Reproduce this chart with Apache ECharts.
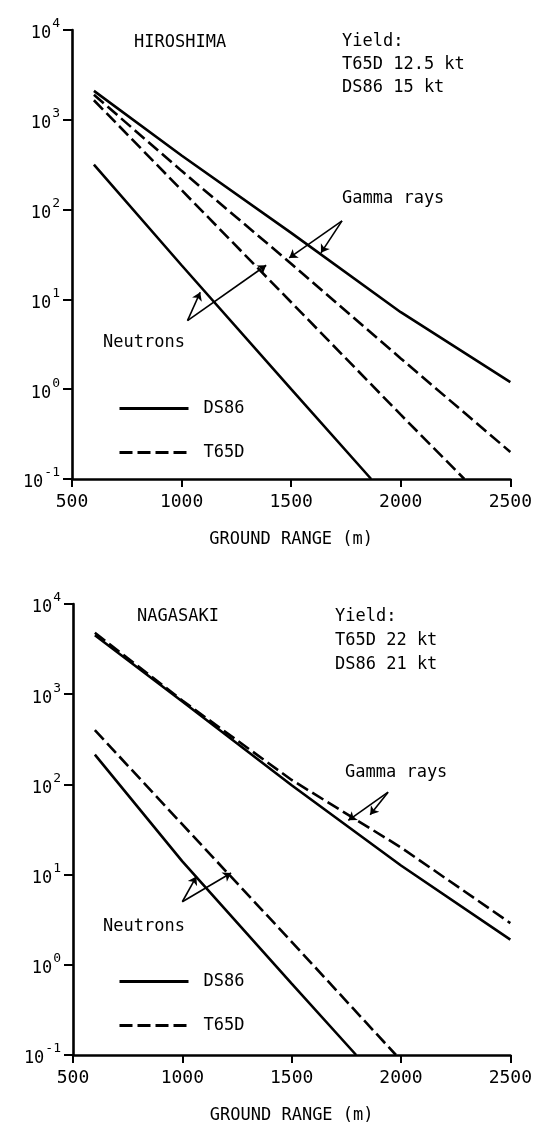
<!DOCTYPE html>
<html>
<head>
<meta charset="utf-8">
<script src="https://cdn.jsdelivr.net/npm/echarts@6/dist/echarts.min.js"></script>
<style>
html, body { margin: 0; padding: 0; background: #fff; }
#main { width: 535px; height: 1128px; }
</style>
</head>
<body>
<div id="main"></div>
<script>
// ground range in metres, values in the same units as the plot (log scale)
// Hiroshima
var hiroGammaRange = [600, 1000, 1500, 2000, 2500];
var hiroGammaDS86 = [2100, 400, 55, 7.2, 1.2];
var hiroGammaT65D = [1900, 270, 25, 2.2, 0.2];
var hiroNeutT65DRange = [600, 1000, 1500, 2000, 2290];
var hiroNeutT65D = [1650, 165, 9.3, 0.52, 0.1];
var hiroNeutDS86Range = [600, 1000, 1500, 1865];
var hiroNeutDS86 = [316, 24, 1.0, 0.1];
// Nagasaki
var nagaGammaRange = [600, 1000, 1500, 2000, 2500];
var nagaGammaDS86 = [4500, 830, 98, 12.6, 1.9];
var nagaGammaT65D = [4800, 850, 112, 20, 2.9];
var nagaNeutT65DRange = [600, 1000, 1500, 1977];
var nagaNeutT65D = [400, 36, 1.8, 0.1];
var nagaNeutDS86Range = [600, 1000, 1500, 1795];
var nagaNeutDS86 = [214, 14, 0.62, 0.1];

// annotation arrows, [from, to] in data units
var hiroArrows = [
    [[1732, 75], [1491, 29]],
    [[1732, 75], [1636, 33]],
    [[1027, 5.8], [1085, 12]],
    [[1027, 5.8], [1386, 24]]
];
var nagaArrows = [
    [[1941, 82], [1759, 40]],
    [[1941, 82], [1859, 46]],
    [[1000, 5.0], [1064, 9.5]],
    [[1000, 5.0], [1223, 10.4]]
];

var FONT = 'DejaVu Sans Mono';
var chart = echarts.init(document.getElementById('main'));

function pairs(xs, ys) {
    var out = [];
    for (var i = 0; i < xs.length; i++) out.push([xs[i], ys[i]]);
    return out;
}

function curve(name, gi, xs, ys) {
    return {
        name: name,
        type: 'line',
        xAxisIndex: gi,
        yAxisIndex: gi,
        symbol: 'none',
        smooth: false,
        lineStyle: {
            color: '#000',
            width: 2.6,
            type: name == 'T65D' ? [13, 5] : 'solid'
        },
        itemStyle: { color: '#000' },
        data: pairs(xs, ys)
    };
}

function arrows(gi, list) {
    return {
        type: 'lines',
        coordinateSystem: 'cartesian2d',
        xAxisIndex: gi,
        yAxisIndex: gi,
        symbol: ['none', 'arrow'],
        symbolSize: 8,
        lineStyle: { color: '#000', width: 1.6, opacity: 1, curveness: 0 },
        data: list.map(function (a) { return { coords: a }; })
    };
}

function xAx(gi) {
    return {
        type: 'value',
        gridIndex: gi,
        min: 500,
        max: 2500,
        interval: 500,
        name: 'GROUND RANGE (m)',
        nameLocation: 'middle',
        nameGap: 52,
        nameTextStyle: { fontFamily: FONT, fontSize: 17, color: '#000' },
        axisLine: { show: true, lineStyle: { color: '#000', width: 2.6 } },
        axisTick: { show: true, inside: false, length: 8, lineStyle: { width: 2 } },
        axisLabel: {
            margin: 14, fontFamily: FONT, fontSize: 18, color: '#000',
            formatter: function (v) { return String(v); }
        },
        splitLine: { show: false }
    };
}

function yAx(gi) {
    return {
        type: 'log',
        logBase: 10,
        gridIndex: gi,
        min: 0.1,
        max: 10000,
        axisLine: { show: true, lineStyle: { color: '#000', width: 2.6 } },
        axisTick: { show: true, inside: false, length: 9, lineStyle: { width: 2 } },
        minorTick: { show: false },
        splitLine: { show: false },
        axisLabel: {
            margin: 12,
            color: '#000',
            formatter: function (v) {
                var e = Math.round(Math.log(v) / Math.LN10);
                return '{a|10}{b|' + e + '}';
            },
            rich: {
                a: { fontFamily: FONT, fontSize: 17, color: '#000', padding: [8, 0, 0, 0] },
                b: { fontFamily: FONT, fontSize: 13, color: '#000', padding: [0, 0, 12, 1] }
            }
        }
    };
}

function txt(x, y, s) {
    return {
        type: 'text',
        x: x,
        y: y,
        style: {
            text: s,
            fontFamily: FONT,
            fontSize: 17,
            fill: '#000',
            verticalAlign: 'middle'
        }
    };
}

function legendAt(top) {
    return {
        orient: 'vertical',
        left: 113,
        top: top,
        itemWidth: 69,
        itemHeight: 14,
        itemGap: 27,
        selectedMode: false,
        data: ['DS86', 'T65D'],
        itemStyle: { opacity: 0 },
        lineStyle: { width: 3 },
        textStyle: { fontFamily: FONT, fontSize: 17, color: '#000', padding: [0, 0, 0, 10] }
    };
}

chart.setOption({
    backgroundColor: '#fff',
    animation: false,
    grid: [
        { left: 72, right: 24, top: 30, height: 449 },
        { left: 73, right: 22, top: 604, height: 451 }
    ],
    xAxis: [xAx(0), xAx(1)],
    yAxis: [yAx(0), yAx(1)],
    legend: [legendAt(395), legendAt(968)],
    series: [
        curve('DS86', 0, hiroGammaRange, hiroGammaDS86),
        curve('T65D', 0, hiroGammaRange, hiroGammaT65D),
        curve('T65D', 0, hiroNeutT65DRange, hiroNeutT65D),
        curve('DS86', 0, hiroNeutDS86Range, hiroNeutDS86),
        arrows(0, hiroArrows),
        curve('DS86', 1, nagaGammaRange, nagaGammaDS86),
        curve('T65D', 1, nagaGammaRange, nagaGammaT65D),
        curve('T65D', 1, nagaNeutT65DRange, nagaNeutT65D),
        curve('DS86', 1, nagaNeutDS86Range, nagaNeutDS86),
        arrows(1, nagaArrows)
    ],
    graphic: [
        txt(134, 43, 'HIROSHIMA'),
        txt(342, 42, 'Yield:'),
        txt(342, 65, 'T65D 12.5 kt'),
        txt(342, 88, 'DS86 15 kt'),
        txt(342, 199, 'Gamma rays'),
        txt(103, 343, 'Neutrons'),
        txt(137, 617, 'NAGASAKI'),
        txt(335, 617, 'Yield:'),
        txt(335, 641, 'T65D 22 kt'),
        txt(335, 665, 'DS86 21 kt'),
        txt(345, 773, 'Gamma rays'),
        txt(103, 927, 'Neutrons')
    ]
});
</script>
</body>
</html>
